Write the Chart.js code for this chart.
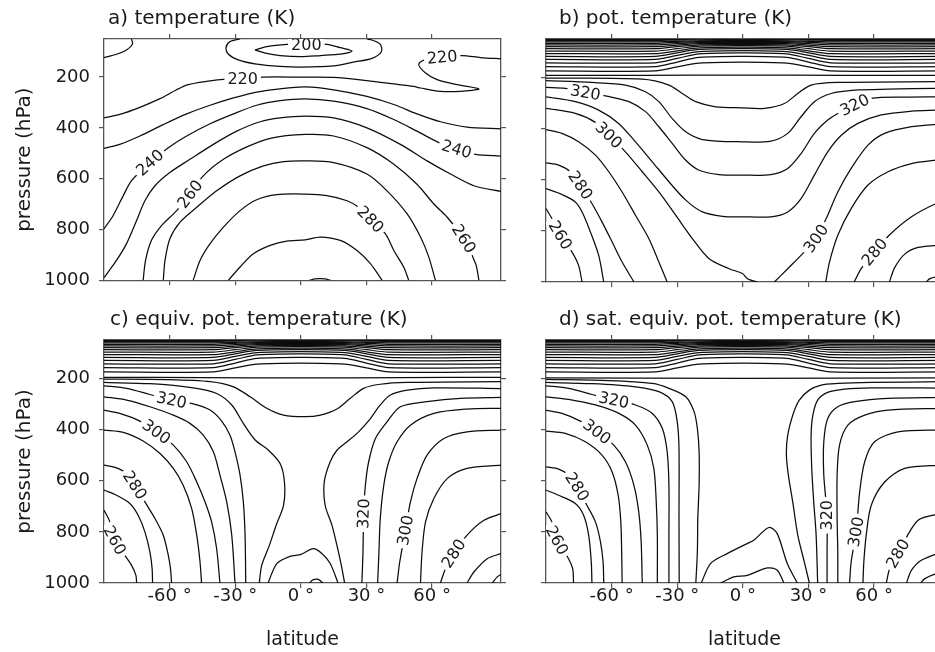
<!DOCTYPE html>
<html>
<head>
<meta charset="utf-8">
<script src="https://cdn.jsdelivr.net/npm/chart.js@4.4.1/dist/chart.umd.min.js"></script>
<style>
  html, body { margin: 0; padding: 0; background: #fff; overflow: hidden; width: 935px; height: 652px; }
  canvas { position: absolute; }
  #pa { left: 0; top: 0; }
  #pb { left: 520px; top: 0; }
  #pc { left: 0; top: 300px; }
  #pd { left: 520px; top: 300px; }
</style>
</head>
<body>
<canvas id="pa" width="520" height="300"></canvas>
<canvas id="pb" width="440" height="300"></canvas>
<canvas id="pc" width="520" height="352"></canvas>
<canvas id="pd" width="440" height="352"></canvas>
<script>
// axes
const latTicks = [-60, -30, 0, 30, 60];
const presTicks = [200, 400, 600, 800, 1000];

// ---- a) temperature, contour lines as [lat, hPa] ----
const tA200 = [[-21,93],[-15.6,80],[-6.4,71],[2,69],[12,71],[18,84],[23.4,97],[18,110],[9,115],[0,119],[-9.5,115],[-15.6,107],[-21,93]];
const tA210 = [[-27.8,50],[-32.4,60],[-34.2,84],[-33.1,110],[-28.6,132],[-20.2,149],[-9.5,158],[0,161],[15,156],[24,141],[32.5,126],[36.8,100],[36.3,71],[32.5,54],[30.2,50]];
const tA220a = [[-90,123],[-84.3,110],[-79.7,93],[-77,71],[-77.4,50]];
const tA220 = [[-90,361],[-82.8,347],[-73.6,319],[-64.4,285],[-56.8,250],[-51.5,230],[-43.1,217],[-33.9,208],[-26.6,207],[-17.1,200],[0,200],[15,201],[30.2,214],[42.5,227],[51.6,237],[54.7,243],[63.8,256],[73,256],[81.4,247],[71.5,230],[62.3,210],[57,184],[53.9,149],[57.7,128],[64.6,122],[73.8,115],[82.2,123],[91.5,128]];
const tA230 = [[-90,481],[-82.8,465],[-73.6,432],[-62.9,387],[-52.2,345],[-41.5,311],[-30.8,282],[-20.2,259],[-9.5,246],[2,239],[15,250],[30.2,276],[42.5,308],[53.1,345],[63.8,376],[76,397],[91.5,404]];
const tA240 = [[-90,798],[-85.8,745],[-81.2,667],[-77.4,608],[-69,537],[-60.6,478],[-52.2,432],[-41.5,384],[-30.8,345],[-20.2,311],[-9.5,293],[2,286],[15,295],[30.2,324],[42.5,367],[53.1,413],[63.1,458],[71.2,484],[79.9,504],[91.5,511]];
const tA250 = [[-90,990],[-84.3,922],[-79.7,856],[-75.1,765],[-71.3,687],[-66.7,628],[-59.9,576],[-50.7,524],[-40,465],[-29.3,413],[-18.6,376],[-9.5,361],[2,354],[15,361],[30.2,400],[45.5,465],[57.7,530],[68.4,582],[79.1,628],[91.5,650]];
const tA260 = [[-72.1,1000],[-71,922],[-68.3,843],[-63.7,785],[-56.8,726],[-50.7,661],[-44.6,589],[-35.4,524],[-24.7,475],[-14,441],[2,426],[15,432],[30.2,478],[42.5,543],[53.1,622],[60.8,700],[66.9,752],[74.5,837],[79.9,935],[81.4,1000]];
const tA270 = [[-62.9,1000],[-62.1,922],[-59.9,837],[-55.3,772],[-47.6,713],[-38.5,648],[-27.8,589],[-17.1,550],[-7.9,533],[2,530],[15,537],[30.2,582],[39.4,648],[48.6,739],[54.7,830],[58.5,909],[61.5,1000]];
const tA280 = [[-49.2,1000],[-46.1,922],[-41.5,856],[-35.4,791],[-27.8,726],[-20.2,683],[-11,663],[2,661],[11.9,667],[21.1,687],[26.4,713],[31.8,761],[38.6,817],[42.5,883],[47,948],[49.3,1000]];
const tA290 = [[-33.1,1000],[-27.8,948],[-21.7,896],[-14,863],[-6.4,846],[2,841],[8.9,830],[18,843],[25.7,883],[31.8,935],[37.1,1000]];
const tA300 = [[4,1000],[6.5,995],[11,995],[13.5,1000]];
// [text, lat, hPa, rotation in degrees]
const tALabels = [['200',2.5,73,0],['220',-26.6,206,0],['220',64.6,122,-5],['240',-69,537,-42],['240',71.2,484,17],['260',-50.7,661,-53],['260',74.5,837,58],['280',31.8,761,45]];

// ---- stratospheric isentropes (360..490 K), shared by b, c, d ----
const stratoLevels = [360, 370, 380, 390, 400, 410, 420, 430, 440, 450, 460, 470, 480, 490];
const stratoLats = [-90, -40, -30, -20, 0, 20, 30, 40, 91.5];
const stratoPolarP    = [175, 158, 143, 130, 118, 107, 97, 88, 80, 73, 67, 61, 56, 51];
const stratoShoulderP = [159, 140, 126, 114, 104, 96, 88, 80, 74, 68, 63, 59, 54, 51];
const stratoFlankP    = [144, 122, 108, 99, 91, 85, 78, 73, 68, 64, 60, 57, 53, 50];
const stratoEquatorP  = [140, 118, 104, 95, 88, 82, 76, 71, 67, 63, 59, 56, 53, 50];

// ---- b) potential temperature ----
const thB260a = [[-90,713],[-87.3,752],[-83.5,817],[-78.1,883],[-75.1,935],[-73.5,1000]];
const thB260b = [[83.8,1000],[85.5,987],[88.4,980],[91.5,977]];
const thB270a = [[-90,635],[-82.7,658],[-76.6,687],[-73.5,726],[-69.7,804],[-65.9,896],[-63.6,1000]];
const thB270b = [[67,1000],[69.4,944],[74,891],[80.1,865],[88.4,857],[91.5,856]];
const thB280a = [[-90,534],[-84.2,543],[-78.9,569],[-74.3,622],[-69,693],[-64.4,765],[-59.8,843],[-55.2,922],[-49.8,1000]];
const thB280b = [[50.9,1000],[54.1,948],[60.2,883],[66.9,817],[77.1,745],[88.4,693],[91.5,690]];
const thB290a = [[-90,404],[-82.7,419],[-75.1,452],[-67.4,504],[-61.3,569],[-55.2,648],[-49.1,739],[-43,830],[-38.4,922],[-34.6,1000]];
const thB290b = [[37.9,1000],[39.6,922],[43.4,817],[49.5,713],[57.2,621],[66.4,569],[77.1,537],[88.4,524],[91.5,522]];
const thB300a = [[-90,321],[-76.6,341],[-67.4,376],[-61.3,426],[-53.7,491],[-46,569],[-38.4,648],[-30.7,739],[-23.1,830],[-15.4,909],[-6.3,948],[-0.2,967],[2.1,987],[6.6,1000]];
const thB300b = [[14.4,1000],[20.5,948],[26.6,896],[33.5,830],[38.1,752],[43.4,648],[49.5,556],[57.2,465],[64.8,419],[77.1,393],[88.4,384],[91.5,383]];
const thB310 = [[-90,276],[-76.6,295],[-65.9,328],[-56.8,380],[-49.1,452],[-41.4,530],[-33.8,608],[-26.1,680],[-18.5,726],[-9.3,743],[-0.2,745],[12.8,745],[20.5,726],[26.6,674],[32.7,582],[38.8,491],[45,426],[52.6,380],[63.3,347],[77.1,332],[88.4,328],[91.5,327]];
const thB320 = [[-90,239],[-81.2,243],[-72,259],[-62.9,272],[-52.1,295],[-44.5,334],[-38.4,393],[-32.3,458],[-26.1,524],[-20,563],[-10.9,580],[-0.2,582],[12.8,580],[20.5,556],[26.6,498],[32.7,419],[38.8,367],[43.4,341],[51.1,308],[58.7,282],[74,277],[88.4,276],[91.5,276]];
const thB330 = [[-90,213],[-69,220],[-53.7,230],[-44.5,256],[-38.4,295],[-32.3,361],[-26.1,413],[-18.5,443],[-0.2,452],[12.8,449],[20.5,419],[26.6,354],[32.7,295],[40.4,263],[51.1,250],[66.4,246],[88.4,243],[91.5,243]];
const thB340 = [[-90,203],[-46,207],[-33.8,230],[-27.7,263],[-21.6,295],[-12.4,315],[-0.2,319],[9.8,321],[19,302],[25.1,263],[31.2,230],[43.4,220],[88.4,217],[91.5,217]];
const thB350 = [[-90,192],[-45,192],[0,191],[45,192],[91.5,192]];
const thBLabels = [['320',-72,259,10],['300',-61.3,426,44],['280',-74.3,622,56],['260',-83.5,817,59],['320',51.1,308,-26],['300',33.5,830,-55],['280',60.2,883,-50]];

// ---- c) equivalent potential temperature ----
const thE350 = [[-90,196],[-45,197],[0,198],[45,197],[91.5,196]];
const thE340 = [[-90,203],[-61.4,205],[-41.5,213],[-30.8,233],[-23.2,272],[-15.6,317],[-7.9,344],[2,350],[8.9,344],[16.5,320],[22.6,278],[28.7,239],[36.3,223],[48.6,216],[91.5,213]];
const thE330a = [[-90,216],[-69,221],[-49.2,237],[-38.5,259],[-31.6,304],[-26.3,376],[-20.9,441],[-14.8,481],[-9.5,533],[-7.5,605],[-7.9,696],[-11.3,774],[-14.4,853],[-17.9,931],[-19,1000]];
const thE330b = [[91.5,240],[60.8,237],[48.6,246],[40.9,265],[36.3,304],[31.8,357],[26.4,409],[21.1,448],[16.5,481],[13.4,526],[10.7,605],[11.1,696],[14.2,774],[16.5,853],[18.5,931],[20,1000]];
const thE320a = [[-90,229],[-79.7,239],[-69,263],[-59.1,285],[-49.2,300],[-41.5,324],[-36.2,367],[-32.4,422],[-30.1,487],[-27.8,578],[-26.3,683],[-25.5,813],[-25.2,1000]];
const thE320b = [[27.9,1000],[28.4,879],[28.7,729],[29.5,618],[31,526],[34.1,435],[39.4,370],[45.5,311],[57.7,291],[73,278],[91.5,274]];
const thE310a = [[-90,272],[-79.7,285],[-69,311],[-58.3,344],[-50.7,376],[-44.6,422],[-40,487],[-37,578],[-33.9,683],[-31.6,813],[-30.1,1000]];
const thE310b = [[35.1,1000],[35.7,879],[36.3,748],[37.9,618],[40.2,526],[44,448],[50.1,383],[60.8,337],[76,320],[91.5,317]];
const thE300a = [[-90,324],[-82.8,337],[-73.6,367],[-66,409],[-58.3,461],[-52.2,526],[-47.6,605],[-43.8,683],[-40.8,761],[-38.5,866],[-37,1000]];
const thE300b = [[44,1000],[45.2,918],[47.8,794],[50.1,683],[53.1,592],[57.7,500],[65.4,435],[76,409],[91.5,402]];
const thE290a = [[-90,402],[-81.2,411],[-72.1,445],[-64.4,494],[-58.3,552],[-53.8,618],[-49.9,709],[-47.6,813],[-46.1,918],[-45.4,1000]];
const thE290b = [[54.7,1000],[55.4,879],[57,761],[60.8,670],[66.9,592],[76,552],[91.5,539]];
const thE280a = [[-90,539],[-84.3,550],[-79.7,572],[-75.9,618],[-71.3,683],[-66.7,748],[-62.9,813],[-60.6,892],[-59.6,944],[-59.1,1000]];
const thE280b = [[63.8,1000],[66.1,944],[69.9,885],[76,813],[83.7,755],[91.5,729]];
const thE270a = [[-90,637],[-84.3,657],[-78.2,689],[-74.4,735],[-71.3,800],[-69,879],[-68,944],[-67.8,1000]];
const thE270b = [[76,1000],[79.1,957],[85.2,905],[91.5,885]];
const thE260a = [[-90,715],[-87.3,761],[-85.1,833],[-80.5,892],[-77.4,931],[-75.4,970],[-75.1,1000]];
const thE260b = [[87.5,1000],[89.8,976],[91.5,967]];
const thE340s = [[-15,1000],[-11,924],[-5,896],[0,888],[5.8,866],[9.6,885],[13.4,924],[17,1000]];
const thE350s = [[4,1000],[5.5,988],[8,986],[10,1000]];
const thELabels = [['320',-59.1,285,12],['300',-66,409,36],['280',-75.9,618,57],['260',-85.1,833,62],['320',28.7,729,-88],['300',47.8,794,-80],['280',69.9,885,-57]];

// ---- d) saturation equivalent potential temperature ----
const thS350 = [[-90,198],[0,200],[91.5,198]];
const thS340a = [[-90,204],[-61.3,209],[-41.4,220],[-33.8,239],[-26.1,272],[-22.3,330],[-20.8,396],[-20,487],[-20,618],[-20.6,748],[-20.8,879],[-21.5,1000]];
const thS340b = [[91.5,213],[58.7,216],[43.4,220],[35.8,226],[30.4,246],[25.8,285],[22.8,344],[20.5,422],[19.9,500],[20.8,578],[22.8,683],[25.1,813],[28.1,918],[30.4,1000]];
const thS330a = [[-90,216],[-69,221],[-49.1,233],[-38.4,252],[-32.3,291],[-30,370],[-29.2,474],[-29.2,748],[-29.1,1000]];
const thS330b = [[91.5,238],[58.7,237],[46.5,242],[38.8,255],[34.2,285],[32,344],[31.2,422],[31.5,552],[32.4,683],[33.5,813],[34.2,1000]];
const thS320a = [[-90,229],[-79.7,239],[-69,263],[-59,285],[-49.1,304],[-41.4,337],[-36.8,396],[-34.6,487],[-33.8,618],[-33.8,813],[-33.8,1000]];
const thS320b = [[91.5,274],[66.4,278],[51.1,291],[43.4,311],[38.8,357],[37,448],[37,578],[38.5,735],[38.5,879],[38.5,1000]];
const thS310a = [[-90,272],[-79.7,282],[-67.4,304],[-56.7,337],[-49.1,383],[-43.7,461],[-40.7,552],[-39.6,683],[-39.1,813],[-39.1,1000]];
const thS310b = [[91.5,317],[66.4,324],[55.7,344],[48,383],[44.2,461],[43.1,578],[43.1,748],[43.4,879],[43.4,1000]];
const thS300a = [[-90,324],[-82.7,337],[-74.3,367],[-66.7,409],[-59,461],[-53.7,526],[-49.8,618],[-47.6,722],[-46.5,839],[-46,1000]];
const thS300b = [[91.5,402],[70.9,409],[60.2,448],[55.7,526],[53.4,644],[51.8,800],[49.5,918],[48.8,1000]];
const thS290a = [[-90,406],[-81.2,415],[-72,448],[-64.4,500],[-59.8,565],[-57,657],[-55.8,761],[-55.4,879],[-55.2,1000]];
const thS290b = [[91.5,539],[74,552],[64.8,605],[58.7,696],[56.4,813],[55.3,918],[54.9,1000]];
const thS280a = [[-90,546],[-84.2,555],[-79.7,578],[-75.8,624],[-71.3,696],[-67.4,761],[-65.1,839],[-63.9,918],[-63.6,1000]];
const thS280b = [[91.5,727],[80.1,755],[70.9,885],[67.1,944],[65.6,1000]];
const thS270a = [[-90,637],[-84.2,657],[-76.6,689],[-72.8,735],[-70.5,813],[-69.3,918],[-69,1000]];
const thS270b = [[91.5,877],[81.6,911],[77.1,950],[74.8,1000]];
const thS260a = [[-90,722],[-87.3,761],[-85,833],[-79.7,905],[-77.8,944],[-77.4,1000]];
const thS260b = [[91.5,960],[88.4,963],[83.2,983],[81.3,1000]];
const thS350s = [[-19,1000],[-14.8,924],[-7.2,885],[2,846],[5,833],[11.9,783],[15.7,807],[20.3,924],[24.9,1000]];
const thS360s = [[-10.2,1000],[-4.1,976],[2,970],[11.2,941],[15.7,950],[18.8,1000]];
const thSLabels = [['320',-59,285,12],['300',-66.7,409,38],['280',-75.8,624,57],['260',-85,833,62],['320',38.5,735,-90],['300',51.8,800,-80],['280',70.9,885,-60]];

// ----------------------------------------------------------------
const FONT = 'DejaVu Sans';
const INK = '#1a1a1a';
const FRAME = '#555';

function stratoLines() {
  return stratoPolarP.map(function (pl, i) {
    var row = [pl, pl, stratoShoulderP[i], stratoFlankP[i], stratoEquatorP[i], stratoFlankP[i], stratoShoulderP[i], pl, pl];
    return stratoLats.map(function (lat, j) { return [lat, row[j]]; });
  });
}

function lineSets(lines) {
  return lines.map(function (pts) {
    return {
      data: pts.map(function (pt) { return {x: pt[0], y: pt[1]}; }),
      showLine: true,
      borderColor: '#0d0d0d',
      borderWidth: 1.25,
      pointRadius: 0,
      tension: 0.3,
      fill: false
    };
  });
}

// titles and inline contour labels (white box hides the line under the text)
const panelText = {
  id: 'panelText',
  afterDatasetsDraw(chart, args, opts) {
    const ctx = chart.ctx, area = chart.chartArea;
    const xs = chart.scales.x, ys = chart.scales.y;
    ctx.save();
    ctx.beginPath();
    ctx.rect(area.left, area.top, area.right - area.left, area.bottom - area.top);
    ctx.clip();
    ctx.font = '16px "' + FONT + '"';
    ctx.textAlign = 'center';
    ctx.textBaseline = 'middle';
    opts.labels.forEach(function (lb) {
      const w = ctx.measureText(lb[0]).width;
      ctx.save();
      ctx.translate(xs.getPixelForValue(lb[1]), ys.getPixelForValue(lb[2]));
      ctx.rotate(lb[3] * Math.PI / 180);
      ctx.fillStyle = '#fff';
      ctx.fillRect(-w / 2 - 3, -7, w + 6, 14);
      ctx.fillStyle = INK;
      ctx.fillText(lb[0], 0, 1);
      ctx.restore();
    });
    ctx.restore();
  },
  afterDraw(chart, args, opts) {
    const ctx = chart.ctx;
    ctx.save();
    ctx.font = '20px "' + FONT + '"';
    ctx.fillStyle = INK;
    ctx.textAlign = 'left';
    ctx.textBaseline = 'alphabetic';
    ctx.fillText(opts.title, chart.chartArea.left + opts.titleOffset, chart.chartArea.top - 15.5);
    ctx.restore();
  }
};

function latAxis(pos, withLabels) {
  return {
    type: 'linear', position: pos, min: -90, max: 91.5,
    afterBuildTicks: function (ax) { ax.ticks = latTicks.map(function (v) { return {value: v}; }); },
    afterFit: function (ax) { ax.height = withLabels ? 69 : 6; },
    grid: { drawOnChartArea: false, drawTicks: true, tickLength: 5, color: FRAME, lineWidth: 1.2 },
    border: { display: true, color: FRAME, width: 1.3 },
    ticks: {
      display: withLabels, padding: -2, color: INK, maxRotation: 0, autoSkip: false,
      font: { family: FONT, size: 18 },
      callback: function (v) { return v + ' °'; }
    },
    title: { display: withLabels, text: 'latitude', color: INK, font: { family: FONT, size: 19 }, padding: { top: 0, bottom: 1 } }
  };
}

function presAxis(pos, withLabels, width) {
  return {
    type: 'linear', position: pos, reverse: true, min: 50, max: 1000,
    afterBuildTicks: function (ax) { ax.ticks = presTicks.map(function (v) { return {value: v}; }); },
    afterFit: function (ax) { ax.width = width; },
    grid: { drawOnChartArea: false, drawTicks: true, tickLength: 5, color: FRAME, lineWidth: 1.2 },
    border: { display: true, color: FRAME, width: 1.3 },
    ticks: {
      display: withLabels, padding: 9, color: INK,
      font: { family: FONT, size: 18 },
      callback: function (v) { return String(v); }
    },
    title: { display: withLabels, text: 'pressure (hPa)', color: INK, font: { family: FONT, size: 20 }, padding: { top: 13, bottom: 0 } }
  };
}

function makePanel(id, cfg) {
  const leftCol = cfg.leftCol, bottomRow = cfg.bottomRow;
  new Chart(document.getElementById(id), {
    type: 'scatter',
    data: { datasets: lineSets(cfg.lines) },
    options: {
      responsive: false,
      animation: false,
      devicePixelRatio: 1,
      events: [],
      layout: { padding: { left: 0, top: bottomRow ? 34 : 33, right: leftCol ? 13 : 11, bottom: bottomRow ? 0 : 12 } },
      scales: {
        x: latAxis('bottom', bottomRow),
        x2: latAxis('top', false),
        y: presAxis('left', leftCol, leftCol ? 104 : 26),
        y2: presAxis('right', false, 6)
      },
      plugins: {
        legend: { display: false },
        tooltip: { enabled: false },
        panelText: { title: cfg.title, titleOffset: cfg.titleOffset, labels: cfg.labels }
      }
    },
    plugins: [panelText]
  });
}

makePanel('pa', {
  title: 'a) temperature (K)', titleOffset: 4, leftCol: true, bottomRow: false,
  lines: [tA200, tA210, tA220a, tA220, tA230, tA240, tA250, tA260, tA270, tA280, tA290, tA300],
  labels: tALabels
});

makePanel('pb', {
  title: 'b) pot. temperature (K)', titleOffset: 13, leftCol: false, bottomRow: false,
  lines: stratoLines().concat([thB350, thB340, thB330, thB320, thB310, thB300a, thB300b, thB290a, thB290b,
    thB280a, thB280b, thB270a, thB270b, thB260a, thB260b]),
  labels: thBLabels
});

makePanel('pc', {
  title: 'c) equiv. pot. temperature (K)', titleOffset: 6, leftCol: true, bottomRow: true,
  lines: stratoLines().concat([thE350, thE340, thE330a, thE330b, thE320a, thE320b, thE310a, thE310b,
    thE300a, thE300b, thE290a, thE290b, thE280a, thE280b, thE270a, thE270b, thE260a, thE260b, thE340s, thE350s]),
  labels: thELabels
});

makePanel('pd', {
  title: 'd) sat. equiv. pot. temperature (K)', titleOffset: 13, leftCol: false, bottomRow: true,
  lines: stratoLines().concat([thS350, thS340a, thS340b, thS330a, thS330b, thS320a, thS320b, thS310a, thS310b,
    thS300a, thS300b, thS290a, thS290b, thS280a, thS280b, thS270a, thS270b, thS260a, thS260b, thS350s, thS360s]),
  labels: thSLabels
});
</script>
</body>
</html>
